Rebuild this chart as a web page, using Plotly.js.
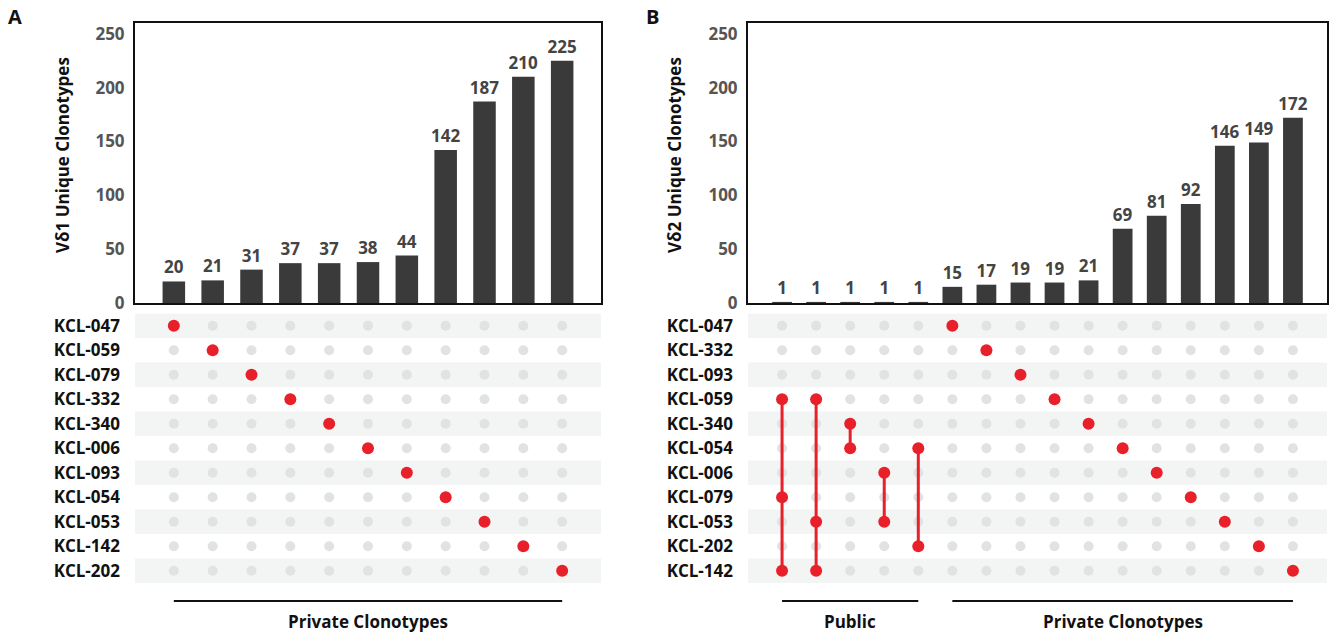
<!DOCTYPE html>
<html>
<head>
<meta charset="utf-8">
<script src="https://cdn.plot.ly/plotly-3.0.1.min.js"></script>
<style>html,body{margin:0;padding:0;background:#fff;}#chart{width:1335px;height:637px;}</style>
</head>
<body>
<div id="chart"></div>
<script>
// ---------- Data ----------
const A_rows = ["KCL-047","KCL-059","KCL-079","KCL-332","KCL-340","KCL-006","KCL-093","KCL-054","KCL-053","KCL-142","KCL-202"];
const A_values = [20,21,31,37,37,38,44,142,187,210,225];
const A_sets = [["KCL-047"],["KCL-059"],["KCL-079"],["KCL-332"],["KCL-340"],["KCL-006"],["KCL-093"],["KCL-054"],["KCL-053"],["KCL-142"],["KCL-202"]];
const A_groups = [{label:"Private Clonotypes", first:0, last:10}];
const A_title = "Vδ1 Unique Clonotypes";

const B_rows = ["KCL-047","KCL-332","KCL-093","KCL-059","KCL-340","KCL-054","KCL-006","KCL-079","KCL-053","KCL-202","KCL-142"];
const B_values = [1,1,1,1,1,15,17,19,19,21,69,81,92,146,149,172];
const B_sets = [
  ["KCL-059","KCL-079","KCL-142"],
  ["KCL-059","KCL-053","KCL-142"],
  ["KCL-340","KCL-054"],
  ["KCL-006","KCL-053"],
  ["KCL-054","KCL-202"],
  ["KCL-047"],["KCL-332"],["KCL-093"],["KCL-059"],["KCL-340"],["KCL-054"],
  ["KCL-006"],["KCL-079"],["KCL-053"],["KCL-202"],["KCL-142"]
];
const B_groups = [{label:"Public", first:0, last:4},{label:"Private Clonotypes", first:5, last:15}];
const B_title = "Vδ2 Unique Clonotypes";
const yTicks = [0,50,100,150,200,250];

// ---------- Styling ----------
const FONT = "Open Sans, Noto Sans, sans-serif";
const BAR_COLOR = "#3a3a3a";
const RED = "#e8202a";
const GREY = "#e1e2e2";
const BAND = "#f3f4f4";
const W = 1335, H = 637;
const px = v => v / W;
const py = v => 1 - v / H;

const traces = [];
const shapes = [];
const annotations = [];
const layout = {
  width: W, height: H,
  margin: {l:0, r:0, t:0, b:0},
  paper_bgcolor: "#fff", plot_bgcolor: "rgba(0,0,0,0)",
  showlegend: false,
  font: {family: FONT}
};

function panel(cfg) {
  const {values, rows, sets, groups, title, xa, ya, xm, ym, xdom, letter, letterX, titleX} = cfg;
  const n = values.length;
  const cols = values.map((_, i) => i);
  // bars
  traces.push({
    type: "bar", x: cols, y: values, xaxis: cfg.xid, yaxis: cfg.yid,
    marker: {color: BAR_COLOR, line: {width: 0}},
    width: 0.58,
    text: values.map(String), textposition: "outside", cliponaxis: false, constraintext: "none",
    outsidetextfont: {family: FONT, size: 17, color: "#444", weight: 700},
    hoverinfo: "skip"
  });

  layout[xa] = {domain: xdom, range: [-1, n], showticklabels: false, ticks: "", showgrid: false, zeroline: false,
    showline: true, mirror: true, linecolor: "#111", linewidth: 2, anchor: cfg.yid, fixedrange: true};
  layout[ya] = {domain: [py(303), py(23)], range: [0, 260], tickvals: yTicks, ticks: "", showgrid: false, zeroline: false,
    showline: true, mirror: true, linecolor: "#111", linewidth: 2, ticklabelstandoff: 5,
    tickfont: {family: FONT, size: 17, color: "#555", weight: 700},
    anchor: cfg.xid, fixedrange: true};

  // matrix axes
  layout[xm] = {domain: xdom, range: [-1, n], showticklabels: false, ticks: "", showgrid: false, zeroline: false, showline: false, anchor: cfg.ymid, fixedrange: true};
  layout[ym] = {domain: [py(583), py(313.5)], type: "category", categoryorder: "array", categoryarray: rows,
    range: [rows.length - 0.5, -0.5], showgrid: false, zeroline: false, showline: false, ticks: "",
    ticklabelstandoff: 14, tickfont: {family: FONT, size: 17, color: "#111", weight: 700}, anchor: cfg.xmid, fixedrange: true};

  // bands on alternate rows
  rows.forEach((r, i) => {
    if (i % 2 === 0) {
      shapes.push({type: "rect", xref: cfg.xmid + " domain", yref: cfg.ymid, x0: 0, x1: 1, y0: i - 0.5, y1: i + 0.5,
        fillcolor: BAND, line: {width: 0}, layer: "below"});
    }
  });

  // grey dots
  const gx = [], gy = [];
  cols.forEach(c => rows.forEach(r => { gx.push(c); gy.push(r); }));
  traces.push({type: "scatter", mode: "markers", x: gx, y: gy, xaxis: cfg.xmid, yaxis: cfg.ymid,
    marker: {color: GREY, size: 10}, hoverinfo: "skip"});

  // connecting lines + red dots
  sets.forEach((s, c) => {
    const idx = s.map(r => rows.indexOf(r)).sort((a, b) => a - b);
    if (idx.length > 1) {
      traces.push({type: "scatter", mode: "lines", x: [c, c], y: [rows[idx[0]], rows[idx[idx.length - 1]]],
        xaxis: cfg.xmid, yaxis: cfg.ymid, line: {color: RED, width: 3}, hoverinfo: "skip"});
    }
  });
  const rx = [], ry = [];
  sets.forEach((s, c) => s.forEach(r => { rx.push(c); ry.push(r); }));
  traces.push({type: "scatter", mode: "markers", x: rx, y: ry, xaxis: cfg.xmid, yaxis: cfg.ymid,
    marker: {color: RED, size: 12}, hoverinfo: "skip"});

  // group brackets
  groups.forEach(g => {
    shapes.push({type: "line", xref: cfg.xmid, yref: "paper", x0: g.first, x1: g.last, y0: py(601), y1: py(601),
      line: {color: "#111", width: 2}});
    annotations.push({xref: cfg.xmid, yref: "paper", x: (g.first + g.last) / 2, y: py(621), text: g.label, showarrow: false,
      font: {family: FONT, size: 17, color: "#111", weight: 700}, xanchor: "center", yanchor: "middle"});
  });

  // y title
  annotations.push({xref: "paper", yref: "paper", x: px(titleX), y: py(155), text: title, textangle: -90, showarrow: false,
    font: {family: FONT, size: 17, color: "#111", weight: 700}, xanchor: "center", yanchor: "middle"});
  // panel letter
  annotations.push({xref: "paper", yref: "paper", x: px(letterX), y: py(16), text: letter, showarrow: false,
    font: {family: FONT, size: 20, color: "#111", weight: 700}, xanchor: "center", yanchor: "middle"});
}

panel({values: A_values, rows: A_rows, sets: A_sets, groups: A_groups, title: A_title,
  xa: "xaxis", ya: "yaxis", xm: "xaxis2", ym: "yaxis2", xid: "x", yid: "y", xmid: "x2", ymid: "y2",
  xdom: [px(135), px(601)], letter: "A", letterX: 15, titleX: 62});
panel({values: B_values, rows: B_rows, sets: B_sets, groups: B_groups, title: B_title,
  xa: "xaxis3", ya: "yaxis3", xm: "xaxis4", ym: "yaxis4", xid: "x3", yid: "y3", xmid: "x4", ymid: "y4",
  xdom: [px(748), px(1327)], letter: "B", letterX: 652, titleX: 674});

layout.shapes = shapes;
layout.annotations = annotations;
Plotly.newPlot("chart", traces, layout, {displayModeBar: false, staticPlot: true});
</script>
</body>
</html>
